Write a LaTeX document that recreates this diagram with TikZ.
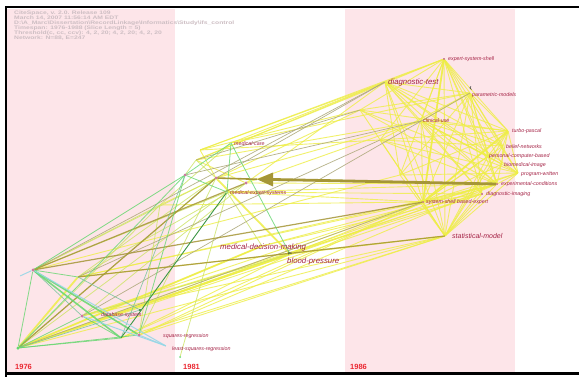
\documentclass[tikz,border=0pt]{standalone}
\usepackage{fontspec}
\setmainfont{Liberation Sans}
\definecolor{bandpink}{RGB}{253,229,233}
\definecolor{hdr}{RGB}{205,190,195}
\definecolor{lblred}{RGB}{165,35,70}
\definecolor{yearred}{RGB}{235,40,50}
\definecolor{cG}{RGB}{100,215,110}
\definecolor{cT}{RGB}{110,195,150}
\definecolor{cDG}{RGB}{60,150,70}
\definecolor{cC}{RGB}{150,215,230}
\definecolor{cYG}{RGB}{205,228,100}
\definecolor{cY}{RGB}{238,238,70}
\definecolor{cO}{RGB}{165,150,55}
\definecolor{cGr}{RGB}{175,170,125}
\definecolor{dotc}{RGB}{205,120,160}
\tikzset{
  dotnode/.style={circle,fill=dotc,inner sep=0pt,minimum size=3pt},
  rdot/.style={circle,fill=lblred!70,inner sep=0pt,minimum size=1.6pt},
  hub/.style={inner sep=0pt,minimum size=0pt},
  hdrline/.style={anchor=west,inner sep=0pt,text=hdr,font=\fontsize{5}{5}\selectfont\bfseries},
  lbl/.style={anchor=west,inner sep=0pt,text=lblred,font=\fontsize{5.3}{6}\selectfont\itshape},
  lblbig/.style={anchor=west,inner sep=0pt,text=lblred,font=\fontsize{7.8}{9}\selectfont\itshape},
  yearlbl/.style={anchor=west,inner sep=0pt,text=yearred,font=\fontsize{7.5}{9}\selectfont\bfseries},
  eg/.style={draw=cG,line width=0.8pt,opacity=0.8},
  egt/.style={draw=cG,line width=1.6pt,opacity=0.85},
  et/.style={draw=cT,line width=0.7pt,opacity=0.8},
  edg/.style={draw=cDG,line width=0.9pt},
  ec/.style={draw=cC,line width=1pt,opacity=0.9},
  eyg/.style={draw=cYG,line width=0.8pt,opacity=0.8},
  ey/.style={draw=cY,line width=0.9pt,opacity=0.8},
  eyt/.style={draw=cY,line width=1.8pt,opacity=0.85},
  eo/.style={draw=cO,line width=1.2pt,opacity=0.85},
  egr/.style={draw=cGr,line width=0.7pt,opacity=0.9},
}
\begin{document}
\begin{tikzpicture}[x=1pt,y=-1pt]
\useasboundingbox (0,0) rectangle (579,377);
\fill[white] (0,0) rectangle (579,377);
\fill[bandpink] (7,9) rectangle (175,372);
\fill[bandpink] (345,9) rectangle (515,372);
% frame
\draw[line width=2.2pt] (6,377) -- (6,7) -- (579,7);
\draw[line width=2.2pt] (6,373.5) -- (579,373.5);

% header
\node[hdrline] (h1) at (14,13.5) {\scalebox{1.35}[1]{CiteSpace, v. 2.0. Release 109}};
\node[hdrline] (h2) at (14,18.5) {\scalebox{1.35}[1]{March 14, 2007 11:56:14 AM EDT}};
\node[hdrline] (h3) at (14,23.5) {\scalebox{1.35}[1]{D:\textbackslash A\_Marc\textbackslash Dissertation\textbackslash RecordLinkage\textbackslash Informatics\textbackslash Study\textbackslash ifs\_control}};
\node[hdrline] (h4) at (14,28.5) {\scalebox{1.35}[1]{Timespan: 1976-1988 (Slice Length = 5)}};
\node[hdrline] (h5) at (14,33.5) {\scalebox{1.35}[1]{Threshold(c, cc, ccv): 4, 2, 20; 4, 2, 20; 4, 2, 20}};
\node[hdrline] (h6) at (14,38.5) {\scalebox{1.35}[1]{Network: N=88, E=247}};

% nodes (left)
\node[dotnode,fill=cG] (a1) at (18,348) {};
\node[dotnode] (a2) at (33,270) {};
\node[hub] (a3) at (78,277) {};
\node[dotnode] (a4) at (82,316) {};
\node[hub] (a5) at (121,338) {};
\node[dotnode] (a6) at (139,335) {};
\node[dotnode,fill=cDG,minimum size=2.4pt] (a7) at (140,310) {};
\node[dotnode,minimum size=2.4pt] (a8) at (185,175) {};
\node[hub] (a9) at (166,346) {};
\node[dotnode,fill=cG,minimum size=2pt] (a10) at (180,357) {};
\node[hub] (a11) at (20,276) {};
% middle
\node[dotnode,fill=cG,minimum size=2pt] (b1) at (231,143) {};
\node[dotnode,minimum size=2.4pt] (b2) at (216,178) {};
\node[dotnode,minimum size=2.6pt] (b3) at (246,183) {};
\node[dotnode,fill=cG,minimum size=2pt] (b4) at (227,192) {};
\node[hub] (b5) at (262,246) {};
\node[hub] (b6) at (290,254) {};
\node[hub] (b7) at (196,160) {};
\node[hub] (b8) at (200,150) {};
\node[hub] (b9) at (160,205) {};
% right
\node[rdot] (r1) at (444,59) {};
\node[hub] (r2) at (385,82) {};
\node[hub] (r3) at (470,93) {};
\node[hub] (r4) at (421,121) {};
\node[hub] (r5) at (508,131) {};
\node[hub] (r6) at (503,146) {};
\node[hub] (r7) at (488,156) {};
\node[hub] (r8) at (502,164) {};
\node[hub] (r9) at (518,173) {};
\node[rdot] (r10) at (497,184) {};
\node[rdot] (r11) at (482,194) {};
\node[rdot] (r12) at (423,202) {};
\node[hub] (r13) at (445,236) {};
\node[hub] (r14) at (380,140) {};
\node[hub] (r15) at (400,175) {};
\node[hub] (r16) at (360,110) {};

% ---- yellow edges (1986)
\foreach \u/\v in {r1/r2,r1/r3,r1/r4,r1/r5,r1/r7,r1/r10,r1/r12,r1/r13,r1/r9,r1/r8,r1/r11,r1/r15,
  r2/r3,r2/r4,r2/r7,r2/r10,r2/r12,r2/r13,r2/r9,r2/r6,r2/r5,r2/r11,r2/r15,
  r3/r4,r3/r5,r3/r6,r3/r10,r3/r13,r3/r12,r3/r11,r3/r7,r3/r9,r3/r15,
  r4/r5,r4/r7,r4/r10,r4/r12,r4/r13,r4/r9,r4/r8,r4/r6,r4/r11,
  r5/r6,r5/r7,r5/r10,r5/r12,r5/r13,r5/r9,r6/r8,r6/r12,r6/r13,r7/r12,r7/r13,r7/r10,r8/r12,r8/r13,r9/r12,r9/r13,r9/r10,
  r10/r12,r10/r13,r11/r13,r12/r13,r11/r12,r14/r1,r14/r5,r14/r9,r14/r13,r14/r3,r14/r10,r14/r6,
  r15/r5,r15/r9,r15/r13,r16/r1,r16/r5,r16/r10,r16/r13,r16/r9,r16/r3,
  b7/r1,b7/r2,b7/r4,b8/r2,b8/r14,b8/r1,b8/r16,b1/r3,b1/r2,b3/r10,b3/r2,b4/r12,b4/r11,b6/r13,b6/r12,b6/r10,b5/r11,b5/r10,
  a1/b6,a1/r13,a1/r12,a1/r11,a1/r10,a1/b5,a3/r12,a4/r12,a4/r13,a6/r13,a5/b6,a6/r10,
  a4/b6,a1/r9,a3/r10,a5/r12,b7/b3,b8/b2,b9/r12,b9/r16,a2/r15,a4/r11,a6/r12,a5/r13,a3/r13,b2/r4,b3/r4,b4/r10}
  \draw[ey] (\u) -- (\v);
\draw[eyt] (a1) -- (a3);
\draw[eyt] (a1) -- (b6);
\draw[eyt] (b2) -- (b6);
\draw[eyt] (a1) -- (b5);
\draw[eyt] (r1) -- (r12);
\draw[eyt] (r5) -- (r12);
% ---- yellow-green edges (1981)
\foreach \u/\v in {a2/b2,a2/b4,a1/b2,a3/b2,a4/b6,a1/b4,a3/b3,a4/b3,a6/b2,b4/b5,a8/b7,b2/b7,a10/b4,a2/b9,b9/b1,a1/b9,a6/b9}
  \draw[eyg] (\u) -- (\v);
% ---- gray / olive long edges
\foreach \u/\v in {r2/a2,r3/a4,r4/a8,r2/b2,r14/a3,r12/a1,r16/b7}
  \draw[egr] (\u) -- (\v);
\draw[eo] (a3) -- (r13);
\draw[eo] (a2) -- (r12);
\draw[eo] (a1) -- (b2);
\draw[eo] (a2) -- (b3);
% ---- green edges (1976)
\foreach \u/\v in {a2/a8,a1/a8,a2/a1,a1/a4,a8/b1,b1/b4,b1/b6,a8/b4,a1/a6,a1/a5,a4/a5,a8/a6,a2/a3}
  \draw[eg] (\u) -- (\v);
\foreach \u/\v in {a2/a4,a3/a7,a1/a7,a8/a5}
  \draw[et] (\u) -- (\v);
\draw[egt] (a2) -- (a5);
\draw[egt] (a2) -- (a6);
\draw[edg] (a5) -- (b4);
\draw[ec] (a2) -- (a9);
\draw[ec] (a4) -- (a9);
\draw[ec] (a11) -- (a2);
\draw[ec] (a6) -- (a9);

% big wedge edge
\draw[cO,line width=1.6pt] (b2) -- (257,179.3);
\fill[cO] (257,179.3) -- (273,172.5) -- (273,186.5) -- cycle;
\draw[cO,line width=2.8pt] (273,179.5) -- (r10);

% redraw dots on top
\foreach \n in {a2,a4,a6,a8,b2,b3}
  \node[dotnode] at (\n) {};
\node[dotnode,fill=cG] at (a1) {};
\node[dotnode,fill=cDG,minimum size=2.4pt] at (a7) {};
\foreach \n in {r1,r10,r11,r12}
  \node[rdot] at (\n) {};

% special marks
\draw[black!75,line width=0.7pt] (471.5,89.5) arc (90:250:1.6);
\node[inner sep=0pt,text=black!80,font=\fontsize{4}{4}\selectfont] (pcmark) at (290,254) {pc};

% labels
\node[lbl] (l1) at (448,59.5) {expert-system-shell};
\node[lblbig] (l2) at (388,82) {diagnostic-test};
\node[lbl] (l3) at (472,95) {parametric-models};
\node[lbl] (l4) at (423,121) {clinical-use};
\node[lbl] (l5) at (512,131) {turbo-pascal};
\node[lbl] (l6) at (506,147) {belief-networks};
\node[lbl] (l7) at (489,156) {personal-computer-based};
\node[lbl] (l8) at (504,165) {biomedical-image};
\node[lbl] (l9) at (521,174) {program-written};
\node[lbl] (l10) at (501,184.5) {experimental-conditions};
\node[lbl] (l11) at (486,194) {diagnostic-imaging};
\node[lbl] (l12) at (426,202) {system-shell based-expert};
\node[lblbig,font=\fontsize{7}{8}\selectfont\itshape] (l13) at (452,236) {statistical-model};
\node[lbl] (l14) at (234,144) {medical-care};
\node[lbl] (l15) at (230,193) {medical-expert-systems};
\node[lblbig] (l16) at (220,247) {medical-decision-making};
\node[lblbig] (l17) at (287,261) {blood-pressure};
\node[lbl] (l18) at (101,315.5) {database-system};
\node[lbl] (l19) at (163,336) {squares-regression};
\node[lbl] (l20) at (172,349.5) {least-squares-regression};

% years
\node[yearlbl] (y1) at (15,367) {1976};
\node[yearlbl] (y2) at (183,367) {1981};
\node[yearlbl] (y3) at (350,367) {1986};
\end{tikzpicture}
\end{document}
